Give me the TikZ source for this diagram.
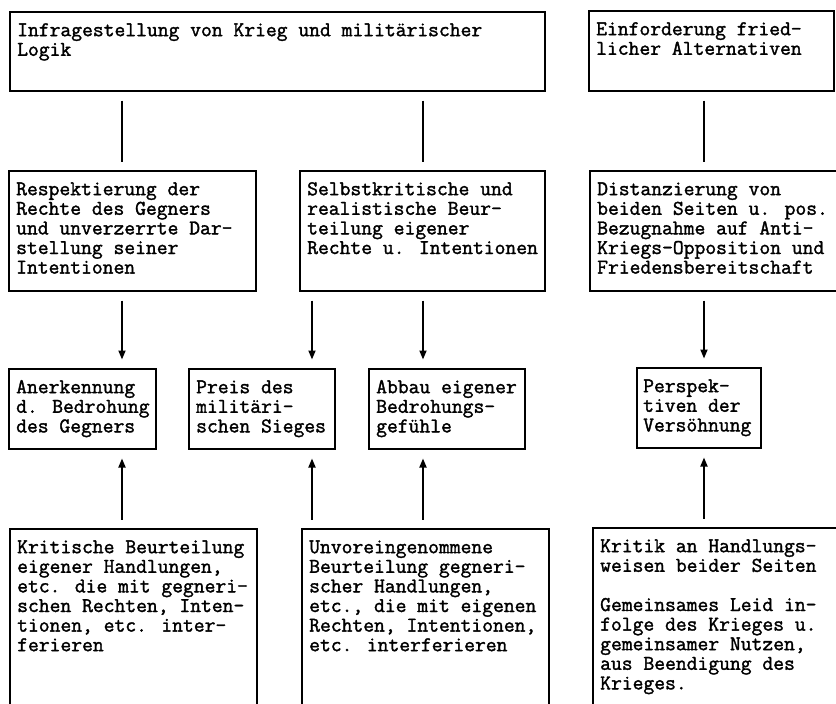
\documentclass[tikz,border=0pt]{standalone}
\usepackage{fontspec}
\usetikzlibrary{arrows.meta}
% serif typewriter face, slightly emboldened
\newfontfamily\tw{Latin Modern Mono}[BoldFont=Latin Modern Mono, BoldFeatures={FakeBold=1.6}]
\begin{document}
\begin{tikzpicture}[x=1pt,y=-1pt,
  box/.style={draw, line width=1.8pt, inner sep=0pt, outer sep=0pt, anchor=north west},
  txt/.style={anchor=north west, inner sep=0pt, align=left,
              font=\tw\bfseries\fontsize{21}{19.6}\selectfont},
  link/.style={line width=1.7pt, shorten <=9.5pt, shorten >=9.5pt},
  arr/.style={link, -{Triangle[length=9pt,width=7pt]}}]
\useasboundingbox (0,0) rectangle (836,704);
\clip (0,0) rectangle (836,704);
\newcommand\fl{\rule{0pt}{17pt}}

% column positions of the connectors
\coordinate (x1) at (122,0);
\coordinate (x2) at (312,0);
\coordinate (x3) at (423,0);
\coordinate (x4) at (704,0);

% top row
\node[box, minimum width=535, minimum height=79] (A) at (10,12) {};
\node[box, minimum width=245, minimum height=80] (B) at (589,11) {};
% second row
\node[box, minimum width=247, minimum height=120] (C) at (9,171) {};
\node[box, minimum width=245, minimum height=120] (D) at (300,171) {};
\node[box, minimum width=262, minimum height=120] (E) at (590,171) {};
% third row
\node[box, minimum width=147, minimum height=80] (F) at (9,369) {};
\node[box, minimum width=146, minimum height=80] (G) at (189,369) {};
\node[box, minimum width=156, minimum height=80] (H) at (369,369) {};
\node[box, minimum width=124, minimum height=80] (I) at (637,368) {};
% bottom row (runs past the lower edge)
\node[box, minimum width=247, minimum height=200] (J) at (10,529) {};
\node[box, minimum width=247, minimum height=200] (K) at (302,529) {};
\node[box, minimum width=262, minimum height=200] (L) at (593,528) {};

% texts
\node[txt] (At) at ([shift={(7,7)}]A.north west) {\fl Infragestellung von Krieg und militärischer\\Logik};
\node[txt] (Bt) at ([shift={(7,7)}]B.north west) {\fl Einforderung fried-\\licher Alternativen};
\node[txt] (Ct) at ([shift={(7,7)}]C.north west) {\fl Respektierung der\\Rechte des Gegners\\und unverzerrte Dar-\\stellung seiner\\Intentionen};
\node[txt] (Dt) at ([shift={(7,7)}]D.north west) {\fl Selbstkritische und\\realistische Beur-\\teilung eigener\\Rechte u. Intentionen};
\node[txt] (Et) at ([shift={(7,7)}]E.north west) {\fl Distanzierung von\\beiden Seiten u. pos.\\Bezugnahme auf Anti-\\Kriegs-Opposition und\\Friedensbereitschaft};
\node[txt] (Ft) at ([shift={(7,7)}]F.north west) {\fl Anerkennung\\d. Bedrohung\\des Gegners};
\node[txt] (Gt) at ([shift={(7,7)}]G.north west) {\fl Preis des\\militäri-\\schen Sieges};
\node[txt] (Ht) at ([shift={(7,7)}]H.north west) {\fl Abbau eigener\\Bedrohungs-\\gefühle};
\node[txt] (It) at ([shift={(6,7)}]I.north west) {\fl Perspek-\\tiven der\\Versöhnung};
\node[txt] (Jt) at ([shift={(7,7)}]J.north west) {\fl Kritische Beurteilung\\eigener Handlungen,\\etc. die mit gegneri-\\schen Rechten, Inten-\\tionen, etc. inter-\\ferieren};
\node[txt] (Kt) at ([shift={(7,7)}]K.north west) {\fl Unvoreingenommene\\Beurteilung gegneri-\\scher Handlungen,\\etc., die mit eigenen\\Rechten, Intentionen,\\etc. interferieren};
\node[txt] (Lt) at ([shift={(7,7)}]L.north west) {\fl Kritik an Handlungs-\\weisen beider Seiten\\[19.6pt]Gemeinsames Leid in-\\folge des Krieges u.\\gemeinsamer Nutzen,\\aus Beendigung des\\Krieges.};

% plain links from the top row
\draw[link] (A.south -| x1) -- (C.north -| x1);
\draw[link] (A.south -| x3) -- (D.north -| x3);
\draw[link] (B.south -| x4) -- (E.north -| x4);
% arrows down into the third row
\draw[arr] (C.south -| x1) -- (F.north -| x1);
\draw[arr] (D.south -| x2) -- (G.north -| x2);
\draw[arr] (D.south -| x3) -- (H.north -| x3);
\draw[arr] (E.south -| x4) -- (I.north -| x4);
% arrows up from the bottom row
\draw[arr] (J.north -| x1) -- (F.south -| x1);
\draw[arr] (K.north -| x2) -- (G.south -| x2);
\draw[arr] (K.north -| x3) -- (H.south -| x3);
\draw[arr] (L.north -| x4) -- (I.south -| x4);
\end{tikzpicture}
\end{document}
